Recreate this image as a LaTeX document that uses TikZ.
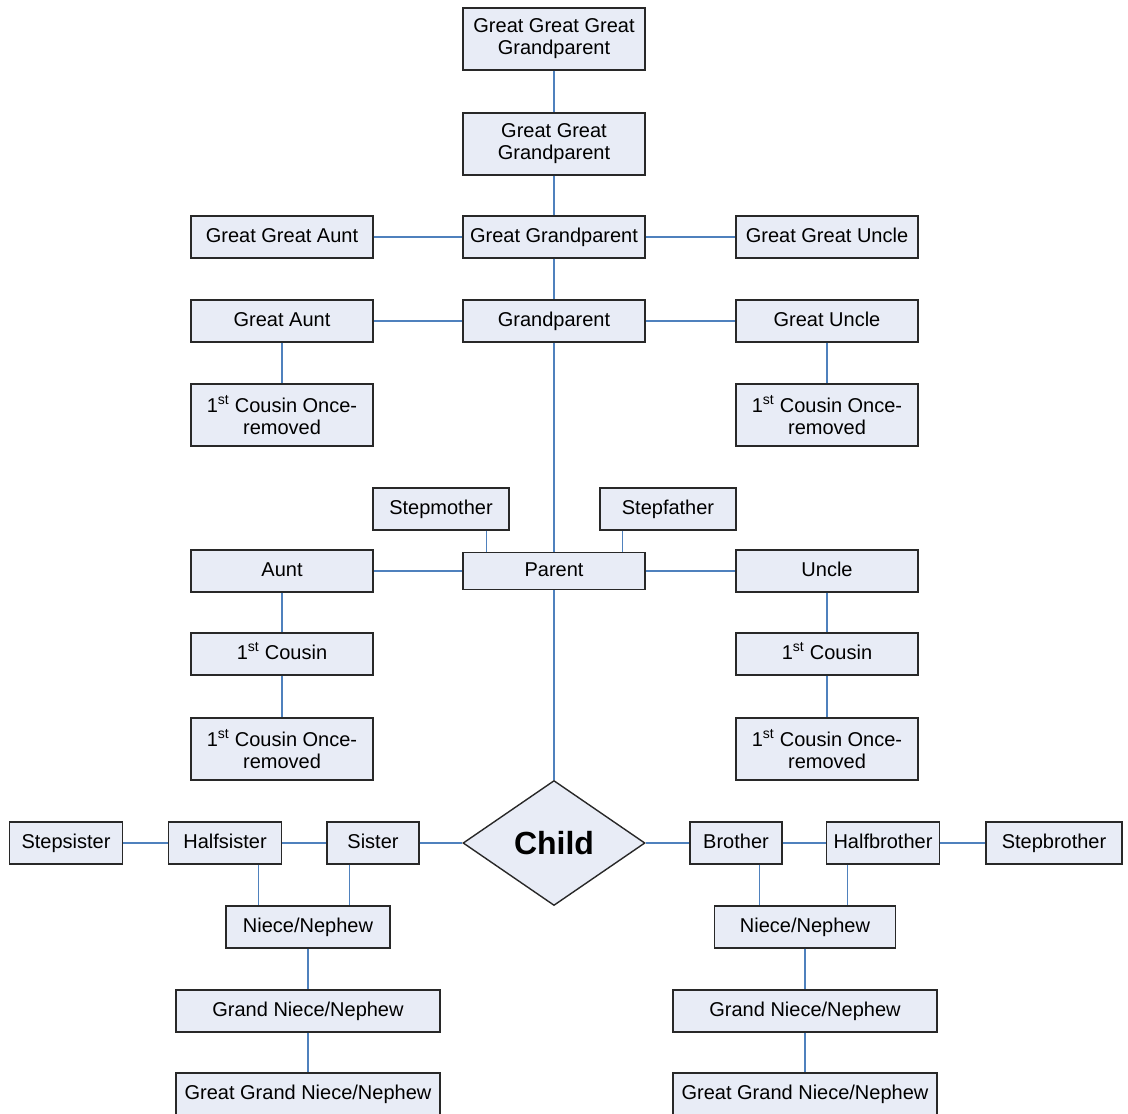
\documentclass[tikz,border=0pt]{standalone}
\usepackage{fontspec}
\setmainfont{Liberation Sans}
\usepackage{xcolor}
\usetikzlibrary{shapes.geometric}
\definecolor{kinfill}{RGB}{232,236,246}
\definecolor{kinline}{RGB}{79,129,189}
\definecolor{kinedge}{RGB}{40,40,40}
\tikzstyle{kin} = [draw=kinedge, fill=kinfill, line width=1.4pt, rectangle, inner sep=0pt, minimum width=182, minimum height=42, align=center, text height=14.5pt, text depth=4.5pt, font=\fontsize{20}{22}\selectfont]
\tikzstyle{kinpair} = [kin, minimum height=62, text height={}, text depth={}]
\tikzstyle{tie} = [draw=kinline, line width=1.2pt]

\begin{document}
\begin{tikzpicture}[x=1pt, y=-1pt]
            \useasboundingbox (0,0) rectangle (1128,1114);
            % direct line
            \node[kinpair] (gggp) at (554,39) {Great Great Great\\Grandparent};
            \node[kinpair] (ggp) at (554,144) {Great Great\\Grandparent};
            \node[kin] (gp) at (554,237) {Great Grandparent};
            \node[kin] (grandp) at (554,321) {Grandparent};
            \node[kin, minimum height=37] (parent) at (554,571) {Parent};
            \node[kin, diamond, minimum width=182, minimum height=125, text height={}, text depth={}, font=\fontsize{32}{36}\selectfont\bfseries] (child) at (554,843) {Child};
            % aunts and uncles
            \node[kin] (ggaunt) at (282,237) {Great Great Aunt};
            \node[kin] (gguncle) at (827,237) {Great Great Uncle};
            \node[kin] (gaunt) at (282,321) {Great Aunt};
            \node[kin] (guncle) at (827,321) {Great Uncle};
            \node[kinpair] (gcousl) at (282,415) {1\textsuperscript{st} Cousin Once-\\removed};
            \node[kinpair] (gcousr) at (827,415) {1\textsuperscript{st} Cousin Once-\\removed};
            \node[kin, minimum width=136] (smother) at (441,509) {Stepmother};
            \node[kin, minimum width=136] (sfather) at (668,509) {Stepfather};
            \node[kin] (aunt) at (282,571) {Aunt};
            \node[kin] (uncle) at (827,571) {Uncle};
            \node[kin] (cousl) at (282,654) {1\textsuperscript{st} Cousin};
            \node[kin] (cousr) at (827,654) {1\textsuperscript{st} Cousin};
            \node[kinpair] (coral) at (282,749) {1\textsuperscript{st} Cousin Once-\\removed};
            \node[kinpair] (corar) at (827,749) {1\textsuperscript{st} Cousin Once-\\removed};
            % siblings
            \node[kin, minimum width=113] (ssister) at (66,843) {Stepsister};
            \node[kin, minimum width=113] (hsister) at (225,843) {Halfsister};
            \node[kin, minimum width=92] (sister) at (373,843) {Sister};
            \node[kin, minimum width=92] (brother) at (736,843) {Brother};
            \node[kin, minimum width=113] (hbrother) at (883,843) {Halfbrother};
            \node[kin, minimum width=136] (sbrother) at (1054,843) {Stepbrother};
            \node[kin, minimum width=164] (nnl) at (308,927) {Niece/Nephew};
            \node[kin, minimum width=181] (nnr) at (805,927) {Niece/Nephew};
            \node[kin, minimum width=264] (gnnl) at (308,1011) {Grand Niece/Nephew};
            \node[kin, minimum width=264] (gnnr) at (805,1011) {Grand Niece/Nephew};
            \node[kin, minimum width=264] (ggnnl) at (308,1094) {Great Grand Niece/Nephew};
            \node[kin, minimum width=264] (ggnnr) at (805,1094) {Great Grand Niece/Nephew};
            % offset drops
            \coordinate (smA) at ([xshift=-23pt]smother.south east);
            \coordinate (sfA) at ([xshift=23pt]sfather.south west);
            \coordinate (hsA) at ([xshift=-24pt]hsister.south east);
            \coordinate (siA) at ([xshift=23pt]sister.south west);
            \coordinate (brA) at ([xshift=-23pt]brother.south east);
            \coordinate (hbA) at ([xshift=22pt]hbrother.south west);
            \draw[tie] (gggp) -- (ggp) -- (gp);
            \draw[tie] (gp) -- (grandp);
            \draw[tie] (grandp) -- (parent);
            \draw[tie] (parent) -- (child);
            \draw[tie] (ggaunt) -- (gp);
            \draw[tie] (gp) -- (gguncle);
            \draw[tie] (gaunt) -- (grandp);
            \draw[tie] (grandp) -- (guncle);
            \draw[tie] (aunt) -- (parent);
            \draw[tie] (parent) -- (uncle);
            \draw[tie] (gaunt) -- (gcousl);
            \draw[tie] (guncle) -- (gcousr);
            \draw[tie] (aunt) -- (cousl) -- (coral);
            \draw[tie] (uncle) -- (cousr) -- (corar);
            \draw[tie] (smA) -- (smA |- parent.north);
            \draw[tie] (sfA) -- (sfA |- parent.north);
            \draw[tie] (ssister) -- (hsister) -- (sister) -- (child);
            \draw[tie] (child) -- (brother) -- (hbrother) -- (sbrother);
            \draw[tie] (hsA) -- (hsA |- nnl.north);
            \draw[tie] (siA) -- (siA |- nnl.north);
            \draw[tie] (brA) -- (brA |- nnr.north);
            \draw[tie] (hbA) -- (hbA |- nnr.north);
            \draw[tie] (nnl) -- (gnnl) -- (ggnnl);
            \draw[tie] (nnr) -- (gnnr) -- (ggnnr);
        \end{tikzpicture}
\end{document}
